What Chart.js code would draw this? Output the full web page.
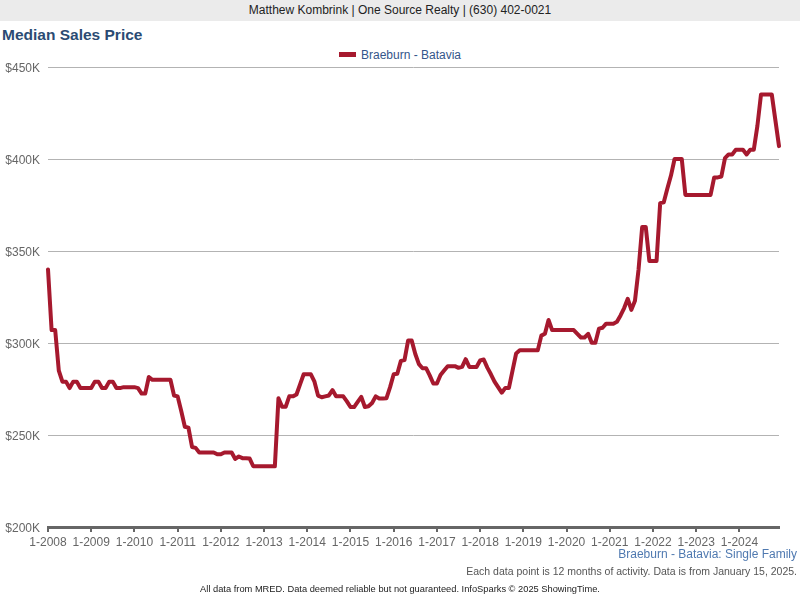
<!DOCTYPE html>
<html>
<head>
<meta charset="utf-8">
<title>Median Sales Price</title>
<script src="https://cdn.jsdelivr.net/npm/chart.js@4.4.0/dist/chart.umd.min.js"></script>
<style>
    html, body { margin: 0; padding: 0; background: #fff; }
    body { width: 800px; height: 600px; position: relative; overflow: hidden;
           font-family: "Liberation Sans", Arial, sans-serif; }
    .topbar { position: absolute; left: 0; top: 0; width: 800px; height: 21px;
              background: #ebebeb; color: #222; font-size: 12px; line-height: 21px; text-align: center; }
    .title { position: absolute; left: 2px; top: 26px; font-size: 15.5px; font-weight: bold; color: #2b4b73; }
    .legend { position: absolute; left: 0; top: 47px; width: 800px; text-align: center;
              font-size: 12px; color: #34568a; line-height: 16px; }
    .legend i { display: inline-block; width: 17px; height: 5px; background: #a6192e;
                vertical-align: middle; margin-right: 5px; position: relative; top: -1px; }
    .note { position: absolute; right: 3px; text-align: right; white-space: nowrap; }
    .area { top: 547px; font-size: 12px; color: #4f79b0; }
    .info { top: 565px; font-size: 10.5px; color: #555; }
    .foot { position: absolute; left: 0; top: 584px; width: 800px; text-align: center;
            font-size: 9.3px; color: #222; white-space: nowrap; }
    #chartWrap { position: absolute; left: 0; top: 0; width: 800px; height: 600px; }
</style>
</head>
<body>
<div class="topbar">Matthew Kombrink | One Source Realty | (630) 402-0021</div>
<div class="title">Median Sales Price</div>
<div class="legend"><i></i>Braeburn - Batavia</div>
<div id="chartWrap"><canvas id="priceChart" width="800" height="600"></canvas></div>
<div class="note area">Braeburn - Batavia: Single Family</div>
<div class="note info">Each data point is 12 months of activity. Data is from January 15, 2025.</div>
<div class="foot">All data from MRED. Data deemed reliable but not guaranteed. InfoSparks © 2025 ShowingTime.</div>

<script>
// Datos: mediana de precio de venta (miles de $), un punto por mes, 1-2008 a 12-2024
const years = [2008, 2009, 2010, 2011, 2012, 2013, 2014, 2015, 2016,
               2017, 2018, 2019, 2020, 2021, 2022, 2023, 2024];

const medianPriceK = [
    // 2008
    340, 307, 307, 285, 279, 279, 275.5, 279, 279, 275.5, 275.5, 275.5,
    // 2009
    275.5, 279, 279, 275.5, 275.5, 279, 279, 275.5, 275.5, 276, 276, 276,
    // 2010
    276, 275.5, 272.5, 272.5, 281.5, 280, 280, 280, 280, 280, 280, 271.5,
    // 2011
    271, 263, 254.5, 254, 243.5, 243, 240.5, 240.5, 240.5, 240.5, 240.5, 239.5,
    // 2012
    239.5, 240.5, 240.5, 240.5, 237, 238.3, 237.4, 237.4, 237.2, 233, 233, 233,
    // 2013
    233, 233, 233, 233, 270, 265.3, 265.3, 271, 271, 272, 277.5, 283,
    // 2014
    283, 283, 279, 271.4, 270.5, 271, 271.5, 274.4, 271, 271, 271, 268.3,
    // 2015
    265.2, 265.2, 268, 270.7, 265.2, 265.6, 267.4, 271, 269.8, 269.8, 270, 276,
    // 2016
    283, 283.3, 290.3, 290.7, 301.3, 301.3, 294, 288.5, 286.3, 286.3, 282.4, 278,
    // 2017
    278, 282.6, 285, 287.4, 287.4, 287.4, 286.5, 287, 291.2, 287, 287, 287,
    // 2018
    290.5, 291, 286.6, 283, 279, 276, 273, 275.6, 275.6, 285, 294.3, 296,
    // 2019
    296, 296, 296, 296, 296, 304, 305, 312.5, 307, 307, 307, 307,
    // 2020
    307, 307, 307, 305, 303, 303, 305, 300.2, 300.2, 307.8, 308.3, 310.5,
    // 2021
    310.5, 310.5, 311.5, 315, 319, 324, 318, 323, 340, 363, 363, 344.6,
    // 2022
    344.6, 344.6, 376, 376.5, 384, 391, 400, 400, 400, 380.5, 380.5, 380.5,
    // 2023
    380.5, 380.5, 380.5, 380.5, 380.5, 390, 390, 390.5, 400.5, 402.5, 402.5, 405,
    // 2024
    405, 405, 402.5, 405, 405, 418, 435, 435, 435, 435, 421, 407
];

const yTicksK = [200, 250, 300, 350, 400, 450];

(function (window) {
    'use strict';

    // Etiquetas mensuales "m-aaaa"; solo enero se muestra en el eje
    const monthLabels = [];
    years.forEach(function (y) {
        for (let m = 1; m <= 12; m++) monthLabels.push(m + '-' + y);
    });

    const lineColor = '#a6192e';
    const font = { family: '"Liberation Sans", Arial, sans-serif', size: 12 };

    const ctx = document.getElementById('priceChart').getContext('2d');

    new Chart(ctx, {
        type: 'line',
        data: {
            labels: monthLabels,
            datasets: [{
                label: 'Braeburn - Batavia',
                data: medianPriceK,
                borderColor: lineColor,
                backgroundColor: lineColor,
                borderWidth: 4,
                pointRadius: 0,
                tension: 0,
                borderJoinStyle: 'round',
                borderCapStyle: 'round'
            }]
        },
        options: {
            responsive: false,
            animation: false,
            layout: { padding: { left: 0, right: 21, top: 67, bottom: 43 } },
            plugins: {
                legend: { display: false },
                tooltip: { enabled: false }
            },
            scales: {
                x: {
                    type: 'category',
                    offset: false,
                    afterFit: function (s) { s.height = 30; },
                    grid: {
                        display: true,
                        drawOnChartArea: false,
                        drawTicks: true,
                        tickLength: 5,
                        color: '#666',
                        lineWidth: 2
                    },
                    border: { display: true, color: '#666', width: 3 },
                    ticks: {
                        autoSkip: false,
                        maxRotation: 0,
                        padding: 3,
                        color: '#666',
                        font: font,
                        callback: function (val, i) {
                            const lbl = monthLabels[i];
                            return lbl.indexOf('1-') === 0 && lbl.length === 6 ? lbl : null;
                        }
                    }
                },
                y: {
                    min: yTicksK[0],
                    max: yTicksK[yTicksK.length - 1],
                    afterFit: function (s) { s.width = 48; },
                    afterBuildTicks: function (s) {
                        s.ticks = yTicksK.map(function (v) { return { value: v }; });
                    },
                    grid: { color: '#b3b3b3', lineWidth: 1, drawTicks: false },
                    border: { display: false },
                    ticks: {
                        padding: 8,
                        labelOffset: 2,
                        color: '#666',
                        font: font,
                        callback: function (v) { return '$' + v + 'K'; }
                    }
                }
            }
        }
    });
})(window);
</script>
</body>
</html>
